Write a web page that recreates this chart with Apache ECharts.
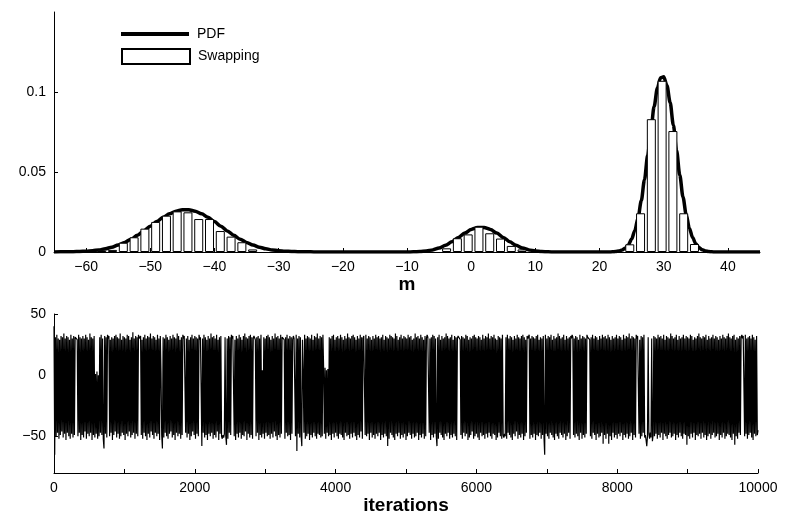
<!DOCTYPE html>
<html>
<head>
<meta charset="utf-8">
<script src="https://cdn.jsdelivr.net/npm/echarts@6/dist/echarts.min.js"></script>
<style>
  html, body { margin: 0; padding: 0; background: #fff; }
  #chart { width: 785px; height: 521px; }
</style>
</head>
<body>
<div id="chart"></div>
<script>
// histogram of the swapping chain (bin centres and densities)
const binCenters = [-57.56, -55.88, -54.20, -52.52, -50.84, -49.16, -47.48, -45.81, -44.13, -42.45,
  -40.77, -39.09, -37.41, -35.73, -34.05,
  -3.83, -2.15, -0.47, 1.21, 2.89, 4.57, 6.25, 7.93,
  24.71, 26.39, 28.07, 29.75, 31.43, 33.11, 34.79]
const binHeights = [0.0010, 0.0013, 0.0058, 0.0092, 0.0146, 0.0188, 0.0227, 0.0254, 0.0248, 0.0206,
  0.0206, 0.0131, 0.0096, 0.0061, 0.0016,
  0.0023, 0.0086, 0.0110, 0.0158, 0.0117, 0.0084, 0.0038, 0.0016,
  0.0048, 0.0242, 0.0830, 0.1070, 0.0756, 0.0242, 0.0050]

// target density
const pdfX = [-65, -64, -63, -62, -61, -60, -59, -58, -57, -56, -55, -54, -53, -52, -51, -50, -49, -48, -47, -46,
  -45, -44, -43, -42, -41, -40, -39, -38, -37, -36, -35, -34, -33, -32, -31, -30, -29, -28, -27, -26,
  -25, -24, -23, -22, -21, -20, -19, -18, -17, -16, -15, -14, -13, -12, -11, -10,
  -9, -8, -7, -6, -5, -4, -3, -2, -1, 0, 1, 2, 3, 4, 5, 6, 7, 8, 9, 10, 11, 12,
  13, 14, 15, 16, 17, 18, 19, 20, 21,
  21.5, 22, 22.5, 23, 23.5, 24, 24.5, 25, 25.5, 26, 26.5, 27, 27.5, 28, 28.5, 29, 29.5,
  30, 30.5, 31, 31.5, 32, 32.5, 33, 33.5, 34, 34.5, 35, 35.5, 36, 36.5, 37, 37.5, 38,
  39, 40, 41, 42, 43, 44, 45]
const pdfY = [0, 0.0001, 0.0001, 0.0002, 0.0003, 0.0005, 0.0008, 0.0013, 0.0020, 0.0030, 0.0043, 0.0060, 0.0080, 0.0105, 0.0132, 0.0161, 0.0190, 0.0217, 0.0239, 0.0255,
  0.0264, 0.0264, 0.0255, 0.0239, 0.0217, 0.0190, 0.0161, 0.0132, 0.0105, 0.0080, 0.0060, 0.0043, 0.0030, 0.0020, 0.0013, 0.0008, 0.0005, 0.0003, 0.0002, 0.0001,
  0.0001, 0, 0, 0, 0, 0, 0, 0, 0, 0, 0, 0, 0, 0, 0, 0,
  0.0001, 0.0003, 0.0007, 0.0013, 0.0025, 0.0042, 0.0064, 0.0091, 0.0118, 0.0141, 0.0153, 0.0153, 0.0141, 0.0118, 0.0091, 0.0064, 0.0042, 0.0025, 0.0013, 0.0007, 0.0003, 0.0001,
  0, 0, 0, 0, 0, 0, 0, 0, 0,
  0, 0.0001, 0.0003, 0.0006, 0.0012, 0.0024, 0.0046, 0.0081, 0.0135, 0.0214, 0.0320, 0.0452, 0.0604, 0.0762, 0.0909, 0.1023, 0.1089,
  0.1095, 0.1041, 0.0934, 0.0793, 0.0635, 0.0481, 0.0344, 0.0233, 0.0149, 0.0090, 0.0051, 0.0028, 0.0014, 0.0007, 0.0003, 0.0001, 0,
  0, 0, 0, 0, 0, 0, 0]

// chain trace, one value every 10 iterations
const traceStep = 10
const traceValues = [
  40, -65, 31, -50, 33, -47, 30, -52, 29, -49, 32, -46, 31, -51, 34, -48, 30, -53, 32, -47,
  31, -50, 29, -52, 33, -48, 30, -51, 32, -49, 31, 30, 32, 29, -50, 33, -47, 31, -53, 30,
  -49, 32, -51, 30, -46, 33, -52, 31, -48, 29, -50, 34, -47, 31, -53, 30, -49, 32, -51, 1,
  -48, 3, -52, 0, -50, 31, -47, 33, -49, 30, -52, -60, 32, -48, 31, -51, 33, 30, 32, -50,
  29, -47, 31, -53, 30, -49, 32, -46, 33, -51, 31, -48, 30, -52, 34, -50, 29, -47, 32, -49,
  31, -53, 30, -48, 33, -50, 32, -46, 29, -51, 31, -49, 35, -47, 30, -52, 32, -48, 31, -50,
  33, 30, 31, 32, -49, 29, -52, 31, -47, 33, -50, 30, -53, 32, -48, 31, -51, 34, -46, 30,
  -49, 32, -52, 31, -47, 29, -50, 33, -48, 30, -53, 32, 2, -49, -60, 31, -51, 30, -47, 33,
  -50, 31, -52, 29, -48, 32, -46, 30, -51, 33, -49, 31, -53, 30, -47, 34, -50, 32, -48, 29,
  -52, 31, -49, 33, 30, 32, 31, -47, 30, -51, 32, -48, 29, -53, 31, -50, 33, -46, 30, -49,
  32, -52, 31, -48, 30, -50, 33, 29, 31, 32, -58, 30, -47, 33, -51, 31, -49, 29, -53, 32,
  -48, 30, -50, 34, -47, 31, -52, 32, -49, 30, -51, 33, -46, 29, -53, 31, -48, 32, -50, -52,
  -49, -51, -48, 31, -50, -57, 30, -52, 32, -47, 31, -49, 33, 30, 32, 31, -50, 29, -53, 32,
  -48, 30, -51, 33, -47, 31, -52, 29, -49, 32, -50, 34, -46, 31, -53, 30, -48, 32, -51, 33,
  -49, 31, -52, 30, 32, 33, 29, -50, 31, -47, 32, -53, 30, -49, 33, -51, 4, -48, 31, -52,
  30, -47, 32, -50, 33, -49, 31, -52, 29, -48, 32, -51, 30, -46, 34, -50, 31, -53, 32, -49,
  30, -51, 33, -48, 31, 30, 32, 29, -52, 31, -47, 33, -50, 30, -49, 32, -53, 31, -48, 29,
  32, 30, 31, -50, 33, -62, 30, -48, 32, -51, 31, -49, -58, 29, 3, -47, 33, -52, 30, -50,
  32, -48, 31, -53, 30, -49, 33, -51, 29, -47, 32, -50, 31, -52, 34, -48, 30, -49, 32, -51,
  31, -50, 33, 5, -48, 6, -52, 4, -47, 5, -50, 31, -49, 30, -53, 32, -48, 33, -51, 29,
  -47, 31, -50, 32, -52, 30, -48, 33, -49, 31, -51, 29, -53, 32, -47, 30, -50, 34, -49, 31,
  -52, 30, -48, 32, -51, 33, -47, 31, -50, 29, -53, 32, -49, 30, -51, 33, -46, 31, -52, 30,
  32, 31, -49, 33, -50, 30, -48, 32, -53, 31, -47, 29, -51, 32, -49, 30, -52, 33, -48, 31,
  -50, 32, -47, 30, -53, 31, -49, 33, -51, 29, -48, 32, -50, 31, -58, 30, -52, 33, -47, 32,
  -49, 31, -51, 30, -53, 34, -48, 32, -50, 29, -47, 31, -52, 33, -49, 30, -51, 32, -48, 31,
  -53, 30, -50, 33, -47, 31, -49, 32, -52, 29, -48, 30, -51, 34, -50, 31, -47, 32, -53, 30,
  -49, 33, -51, 31, -48, 29, -52, 32, -50, 30, 33, 31, 32, -47, 30, -53, 31, -49, 33, -51,
  32, -48, 30, -50, -58, 31, -52, 33, -47, 29, -49, 32, -51, 30, -53, 31, -48, 34, -50, 32,
  -47, 30, -52, 31, -49, 33, -51, 29, -48, 32, -50, 31, -53, 30, 32, 31, 33, 29, -49, 32,
  -52, 31, -47, 30, -50, 33, -48, 32, -53, 29, -51, 31, -49, 30, -46, 32, -52, 33, -50, 31,
  -48, 30, -51, 32, -53, 31, -47, 29, -50, 33, -49, 30, -52, 32, -48, 31, -51, 34, -47, 30,
  -50, 32, -52, 31, -48, 33, -49, 30, -53, 29, -51, 32, -47, 31, -50, 30, -52, 33, -49, -51,
  -48, -50, 31, -52, 33, -47, 30, -49, 32, -51, 31, -53, 29, -48, 32, -50, 30, -46, 33, -52,
  31, -49, 30, -51, 32, -48, 33, -53, 31, -50, 29, -47, 32, 30, 31, 33, -52, 30, -49, 32,
  -51, 31, -48, 30, -53, 32, -49, 33, -50, 29, -47, 31, -52, 30, -49, 32, -51, -65, 33, -48,
  30, -50, 32, -52, 31, -47, 33, -49, 29, -51, 32, -53, 30, -48, 31, -50, 34, -52, 32, -47,
  30, -49, 31, -51, 33, -48, 29, -53, 32, -50, 30, -47, 31, -52, 32, 30, 33, 31, -49, 30,
  -51, 32, -48, 31, -50, 29, -53, 33, -47, 30, -52, 32, -49, 31, -51, 30, -48, 33, 31, 32,
  30, 29, -50, 31, -52, 33, -47, 30, -49, 32, -53, 31, -48, 29, -51, 32, -50, 30, -47, 33,
  -56, 31, -49, 32, -52, 30, -48, 33, -56, 31, -50, 29, -53, 32, -47, 30, -51, 31, -49, 33,
  -52, 30, -48, 32, -50, 31, -47, 29, -53, 33, -49, 30, -51, 32, -48, 31, -52, 34, -50, 30,
  -47, 32, -53, 31, -49, 30, -51, 33, 30, 32, 31, -48, 29, -52, 32, -50, 31, -47, 33, -51,
  -49, -53, -58, -50, 31, -48, -52, -47, -51, 30, -54, -49, 32, -50, 31, -48, 30, -52, 33, -49,
  31, -51, 32, -47, 30, -53, 33, -48, 29, -50, 32, -52, 31, -49, 30, -47, 34, -51, 32, -50,
  30, -48, 31, -53, 33, -49, 29, -51, 32, -47, 30, -50, 31, -52, 33, -48, 30, -49, 32, -57,
  31, -50, 30, -52, 33, -48, 32, -51, 29, -47, 31, -53, 30, -49, 32, -50, 34, -48, 31, -52,
  30, -47, 32, -51, 31, -49, 33, -53, 29, -50, 32, -48, 30, -52, 31, -49, 33, -47, 30, -51,
  32, -50, 31, -48, 29, -53, 32, -49, 30, -51, 33, -47, 31, -52, 30, -50, 32, -48, 34, -49,
  31, -51, 30, -53, 32, -48, 33, -57, 29, -50, 31, -52, 30, -47, 32, -49, 31, 33, 30, 32,
  31, -50, 33, -48, 30, -52, 31, -49, 32, -47, 30, -51, 33, -53, 31, -48, 29, -50, 32, -49,
  -45
]

const mTicks = [-60, -50, -40, -30, -20, -10, 0, 10, 20, 30, 40]
const densityTicks = [0, 0.05, 0.1]
const iterTicks = [0, 1000, 2000, 3000, 4000, 5000, 6000, 7000, 8000, 9000, 10000]
const iterLabels = [0, 2000, 4000, 6000, 8000, 10000]
const traceTicks = [-50, 0, 50]

const font = 'Liberation Sans, Arial, Helvetica, sans-serif'
const minus = v => String(v).replace('-', '\u2212')

let chart = echarts.init(document.getElementById('chart'))

const axisBase = {
  axisLine: { onZero: false, lineStyle: { color: '#000', width: 1 } },
  splitLine: { show: false },
  nameTextStyle: { color: '#000', fontFamily: font, fontWeight: 'bold', fontSize: 19 }
}
const tick = vals => ({ inside: true, length: 4, customValues: vals, lineStyle: { color: '#000' } })
const label = vals => ({ customValues: vals, formatter: minus, color: '#000', fontFamily: font, fontSize: 14, margin: 8 })

let opts = {
  animation: false,
  backgroundColor: '#fff',
  grid: [
    { left: 54, right: 25, top: 12, height: 240 },
    { left: 54, right: 27, top: 314, height: 159 }
  ],
  legend: [
    {
      data: ['PDF'], left: 121, top: 27, padding: 0, icon: 'rect', itemWidth: 68, itemHeight: 4,
      textStyle: { color: '#000', fontFamily: font, fontSize: 14, padding: [0, 0, 0, 3] }
    },
    {
      data: ['Swapping'], left: 121, top: 48, padding: 0, icon: 'rect', itemWidth: 68, itemHeight: 15,
      textStyle: { color: '#000', fontFamily: font, fontSize: 14, padding: [0, 0, 0, 3] }
    }
  ],
  xAxis: [
    Object.assign({}, axisBase, {
      gridIndex: 0, type: 'value', min: -65, max: 45,
      name: 'm', nameLocation: 'middle', nameGap: 16,
      axisTick: tick(mTicks), axisLabel: label(mTicks)
    }),
    Object.assign({}, axisBase, {
      gridIndex: 1, type: 'value', min: 0, max: 10000,
      name: 'iterations', nameLocation: 'middle', nameGap: 23,
      axisTick: tick(iterTicks), axisLabel: label(iterLabels)
    })
  ],
  yAxis: [
    Object.assign({}, axisBase, {
      gridIndex: 0, type: 'value', min: 0, max: 0.15,
      axisTick: tick(densityTicks), axisLabel: label(densityTicks)
    }),
    Object.assign({}, axisBase, {
      gridIndex: 1, type: 'value', min: -80, max: 50,
      axisTick: tick(traceTicks), axisLabel: label(traceTicks)
    })
  ],
  series: [
    {
      name: 'PDF', type: 'line', xAxisIndex: 0, yAxisIndex: 0,
      data: pdfX.map((x, i) => [x, pdfY[i]]),
      showSymbol: false, smooth: 0.3, smoothMonotone: 'x',
      color: '#000', lineStyle: { color: '#000', width: 3.5 }, z: 2
    },
    {
      name: 'Swapping', type: 'bar', xAxisIndex: 0, yAxisIndex: 0,
      data: binCenters.map((x, i) => [x, binHeights[i]]),
      barWidth: 9,
      itemStyle: { color: '#fff', borderColor: '#000', borderWidth: 1 }, z: 3
    },
    {
      name: 'trace', type: 'line', xAxisIndex: 1, yAxisIndex: 1,
      data: traceValues.map((v, i) => [i * traceStep, v]),
      showSymbol: false, sampling: null,
      color: '#000', lineStyle: { color: '#000', width: 1.2, join: 'bevel' }
    }
  ]
}
chart.setOption(opts)
</script>
</body>
</html>
